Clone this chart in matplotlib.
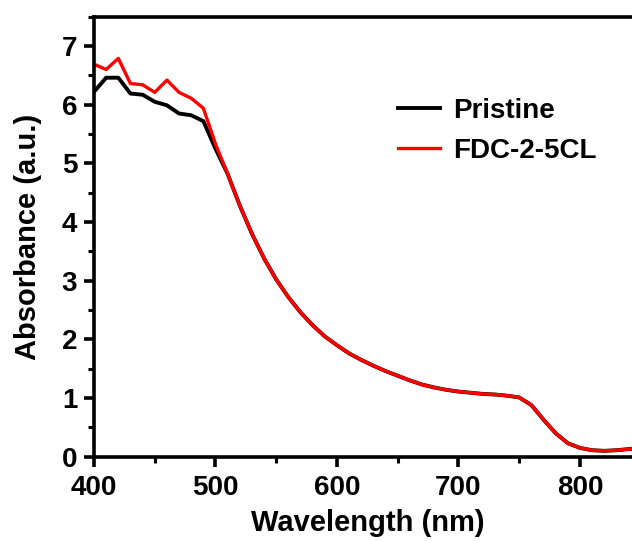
import numpy as np
import matplotlib
matplotlib.use("Agg")
import matplotlib.pyplot as plt
from matplotlib.ticker import MultipleLocator

# Data
wavelength = [400, 410, 420, 430, 440, 450, 460, 470, 480, 490,
              500, 510, 520, 530, 540, 550, 560, 570, 580, 590,
              600, 610, 620, 630, 640, 650, 660, 670, 680, 690,
              700, 710, 720, 730, 740, 750, 760, 770, 780, 790,
              800, 810, 820, 830, 840, 850]

tail = [4.82, 4.28, 3.80, 3.38, 3.02, 2.72, 2.46, 2.24, 2.05,
        1.90, 1.76, 1.65, 1.55, 1.46, 1.38, 1.30, 1.23, 1.18, 1.14,
        1.11, 1.09, 1.07, 1.06, 1.04, 1.01, 0.88, 0.63, 0.40, 0.23,
        0.15, 0.11, 0.10, 0.11, 0.13, 0.15]

pristine = [6.22, 6.46, 6.46, 6.19, 6.17, 6.05, 5.99, 5.85, 5.82, 5.72, 5.25] + tail
fdc = [6.69, 6.60, 6.79, 6.36, 6.34, 6.21, 6.42, 6.21, 6.11, 5.94, 5.33] + tail

plt.rcParams['font.family'] = ['Liberation Sans', 'DejaVu Sans']
plt.rcParams['font.weight'] = 'bold'

fig = plt.figure(figsize=(6.32, 5.41), dpi=100)
ax = fig.add_axes([94 / 632, 84.3 / 541, 546.75 / 632, 440 / 541])

ax.plot(wavelength, pristine, color="black", lw=2.8, label="Pristine")
ax.plot(wavelength, fdc, color="#ff0000", lw=2.4, label="FDC-2-5CL")

ax.set_xlim(400, 850)
ax.set_ylim(0, 7.5)
ax.xaxis.set_major_locator(MultipleLocator(100))
ax.xaxis.set_minor_locator(MultipleLocator(50))
ax.yaxis.set_major_locator(MultipleLocator(1))
ax.yaxis.set_minor_locator(MultipleLocator(0.5))

for s in ax.spines.values():
    s.set_linewidth(2.6)
ax.tick_params(which="major", direction="out", length=7, width=2.6, labelsize=20)
ax.tick_params(axis="x", which="major", pad=6)
ax.tick_params(axis="y", which="major", pad=5)
ax.tick_params(which="minor", direction="out", length=4, width=2.2)
for lab in ax.get_xticklabels() + ax.get_yticklabels():
    lab.set_fontweight("bold")

ax.set_xlabel("Wavelength (nm)", fontsize=21, fontweight="bold", labelpad=6)
ax.set_ylabel("Absorbance (a.u.)", fontsize=21, fontweight="bold", labelpad=14)

ax.legend(loc="center left", bbox_to_anchor=(398 / 632, 1 - 131 / 541),
          bbox_transform=fig.transFigure, frameon=False,
          handlelength=1.5, handletextpad=0.5, labelspacing=0.5,
          borderpad=0, borderaxespad=0, prop={"weight": "bold", "size": 20})

fig.savefig("out.png", dpi=100)
